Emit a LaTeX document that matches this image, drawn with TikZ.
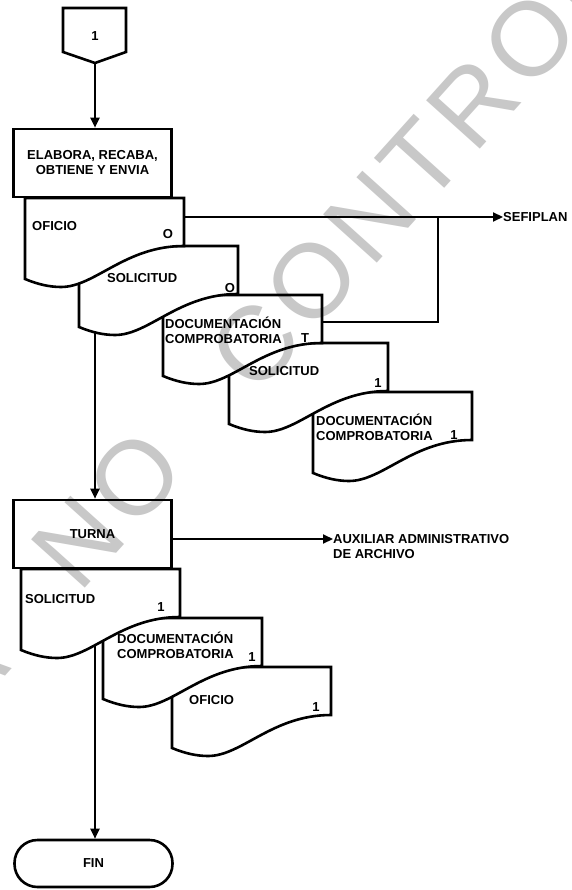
\documentclass[tikz,border=0pt]{standalone}
\usepackage{fontspec}
\setmainfont{Liberation Sans}
\usetikzlibrary{arrows.meta,calc}
\definecolor{wmgray}{RGB}{200,200,200}
\tikzset{
  shapeline/.style={line width=2.6pt, line join=miter},
  procbox/.style={draw, shapeline, fill=white, minimum width=158pt, minimum height=68pt, align=center, inner sep=0pt, font=\fontsize{13}{15}\selectfont\bfseries},
  docst/.style={draw, shapeline, fill=white},
  lbl/.style={inner sep=0pt, font=\fontsize{13}{15}\selectfont\bfseries, align=left},
  conn/.style={line width=2.1pt},
  arr/.style={conn, -{Triangle[length=10pt,width=9pt]}},
  wm/.style={inner sep=0pt, text=wmgray, rotate=48, anchor=center, font=\fontsize{105}{105}\selectfont},
}
\newcommand\docshape[2]{%
  \coordinate (#1) at (#2);
  \path[docst, shift={(#1)}] (0,0) -- (159,0) -- (159,48) .. controls (100,48) and (70,89) .. (36,89) .. controls (24,89) and (12,86) .. (0,81) -- cycle;
}
\begin{document}
\begin{tikzpicture}[x=1pt,y=-1pt]
\useasboundingbox (0,0) rectangle (571,890);
\fill[white] (0,0) rectangle (571,890);

% off-page connector
\draw[shapeline, fill=white] (63,8) -- (126,8) -- (126,52) -- (95,63) -- (63,52) -- cycle;
\node[lbl] (c1) at (95,36) {1};
\coordinate (c1tip) at (95,63);

% upper documents (back to front)
\docshape{d5}{313,392}
\docshape{d4}{229,343}
\docshape{d3}{163,295}
\docshape{d2}{79,246}
\docshape{d1}{25,198}
\node[procbox] (elab) at (92.5,163) {ELABORA, RECABA,\\OBTIENE Y ENVIA};

\node[lbl, anchor=west] (t1) at (32,226) {OFICIO};
\node[lbl] (t1n) at (168,234) {O};
\node[lbl, anchor=west] (t2) at (107,278) {SOLICITUD};
\node[lbl] (t2n) at (230,288) {O};
\node[lbl, anchor=west] (t3) at (165,330.5) {DOCUMENTACIÓN\\COMPROBATORIA};
\node[lbl] (t3n) at (305,338) {T};
\node[lbl, anchor=west] (t4) at (249,371) {SOLICITUD};
\node[lbl] (t4n) at (378,383) {1};
\node[lbl, anchor=west] (t5) at (316,427) {DOCUMENTACIÓN\\COMPROBATORIA};
\node[lbl] (t5n) at (454,435) {1};

% lower documents (back to front)
\docshape{e3}{172,667}
\docshape{e2}{103,618}
\docshape{e1}{21,569}
\node[procbox] (turna) at (92.5,534) {TURNA};

\node[lbl, anchor=west] (u1) at (25,599) {SOLICITUD};
\node[lbl] (u1n) at (161,607) {1};
\node[lbl, anchor=west] (u2) at (117,645.5) {DOCUMENTACIÓN\\COMPROBATORIA};
\node[lbl] (u2n) at (252,657) {1};
\node[lbl, anchor=west] (u3) at (189,700) {OFICIO};
\node[lbl] (u3n) at (316,707) {1};

% terminal
\node[draw, shapeline, fill=white, rounded corners=23pt, minimum width=158pt, minimum height=47pt, inner sep=0pt, font=\fontsize{13}{15}\selectfont\bfseries] (fin) at (93.5,863.5) {FIN};

% external targets
\node[lbl, anchor=west] (sef) at (503,217) {SEFIPLAN};
\node[lbl, anchor=west] (aux) at (333,539) {AUXILIAR ADMINISTRATIVO};
\node[lbl, anchor=west] (aux2) at (333,554) {DE ARCHIVO};

% connectors
\draw[arr] (c1tip) -- (c1tip |- elab.north);
\coordinate (d1out) at (183,217);
\draw[arr] (d1out) -- (sef.west);
\coordinate (d3out) at (322,322);
\coordinate (jn) at (438,217);
\draw[conn] (d3out) -| (jn);
\coordinate (m1) at (95,332);
\draw[arr] (m1) -- (m1 |- turna.north);
\coordinate (tout) at (173,539);
\draw[arr] (tout) -- (aux.west);
\coordinate (m2) at (95,646);
\draw[arr] (m2) -- (m2 |- fin.north);

% watermark (letters placed along a 48 degree line)
\coordinate (wmo) at (135,478);
\begin{scope}[blend mode=multiply]
\clip (0,0) rectangle (571,890);
\foreach \ch/\s [count=\i] in {C/-540.55, O/-454.8, P/-371.95, I/-315.35, A/-258.75,
    N/-85.75, O/0,
    C/179, O/264.75, N/350.5, T/427.5, R/504.5, O/590.25, L/667.25, A/738.45, D/818.35, A/898.25}
  \node[wm] (wm\i) at ($(wmo)+(-48:\s)$) {\ch};
\end{scope}
\end{tikzpicture}
\end{document}
